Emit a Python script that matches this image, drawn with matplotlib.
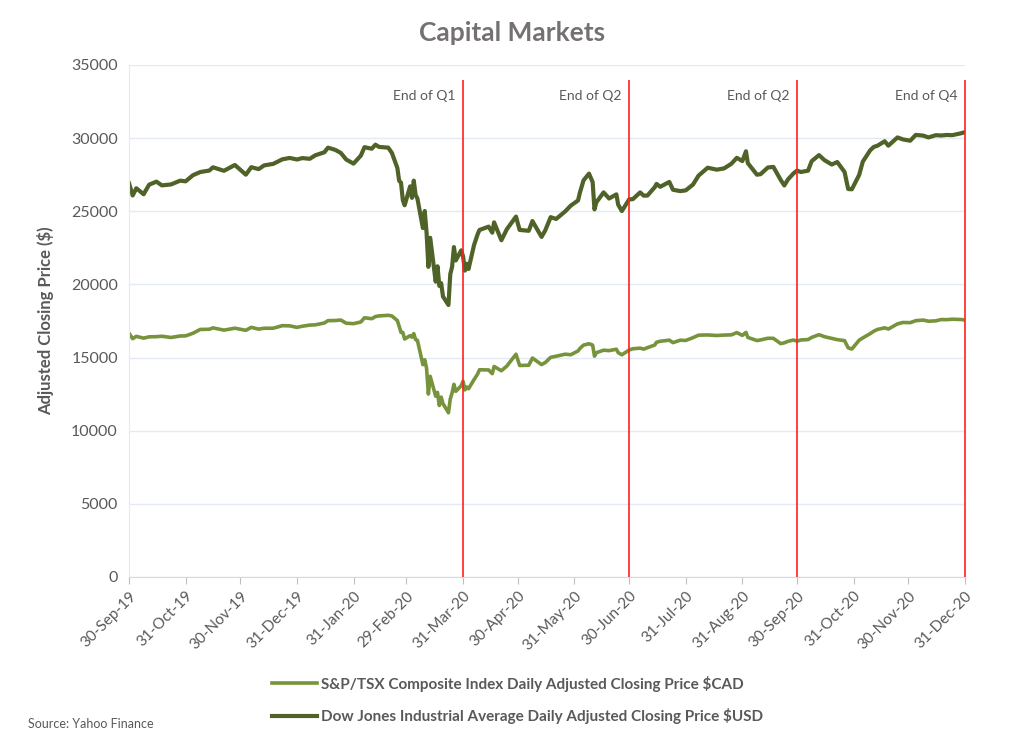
import numpy as np
import pandas as pd
import matplotlib
matplotlib.use('Agg')
import matplotlib.pyplot as plt
import matplotlib.dates as mdates

plt.rcParams['font.family'] = ['Lato', 'DejaVu Sans']

dates = ['2019-09-30', '2019-10-02', '2019-10-04', '2019-10-08', '2019-10-11', '2019-10-15', '2019-10-18',
         '2019-10-23', '2019-10-28', '2019-10-31', '2019-11-04', '2019-11-08', '2019-11-13', '2019-11-15',
         '2019-11-21', '2019-11-27', '2019-12-03', '2019-12-06', '2019-12-10', '2019-12-13', '2019-12-18',
         '2019-12-23', '2019-12-27', '2019-12-31', '2020-01-03', '2020-01-07', '2020-01-10', '2020-01-15',
         '2020-01-17', '2020-01-21', '2020-01-24', '2020-01-27', '2020-01-31', '2020-02-04', '2020-02-06',
         '2020-02-10', '2020-02-12', '2020-02-14', '2020-02-19', '2020-02-21', '2020-02-24', '2020-02-25',
         '2020-02-26', '2020-02-27', '2020-02-28', '2020-03-02', '2020-03-03', '2020-03-04', '2020-03-05',
         '2020-03-06', '2020-03-09', '2020-03-10', '2020-03-11', '2020-03-12', '2020-03-13', '2020-03-16',
         '2020-03-17', '2020-03-18', '2020-03-19', '2020-03-20', '2020-03-23', '2020-03-24', '2020-03-25',
         '2020-03-26', '2020-03-27', '2020-03-30', '2020-03-31', '2020-04-01', '2020-04-02', '2020-04-03',
         '2020-04-06', '2020-04-08', '2020-04-09', '2020-04-14', '2020-04-16', '2020-04-17', '2020-04-21',
         '2020-04-24', '2020-04-29', '2020-05-01', '2020-05-06', '2020-05-08', '2020-05-13', '2020-05-15',
         '2020-05-18', '2020-05-21', '2020-05-26', '2020-05-29', '2020-06-02', '2020-06-03', '2020-06-05',
         '2020-06-08', '2020-06-10', '2020-06-11', '2020-06-12', '2020-06-16', '2020-06-19', '2020-06-23',
         '2020-06-24', '2020-06-26', '2020-06-30', '2020-07-02', '2020-07-06', '2020-07-08', '2020-07-10',
         '2020-07-14', '2020-07-15', '2020-07-17', '2020-07-22', '2020-07-24', '2020-07-28', '2020-07-31',
         '2020-08-04', '2020-08-07', '2020-08-12', '2020-08-17', '2020-08-21', '2020-08-25', '2020-08-28',
         '2020-08-31', '2020-09-02', '2020-09-03', '2020-09-08', '2020-09-10', '2020-09-14', '2020-09-17',
         '2020-09-21', '2020-09-23', '2020-09-25', '2020-09-28', '2020-09-30', '2020-10-02', '2020-10-06',
         '2020-10-08', '2020-10-12', '2020-10-15', '2020-10-19', '2020-10-22', '2020-10-26', '2020-10-28',
         '2020-10-30', '2020-11-03', '2020-11-05', '2020-11-09', '2020-11-11', '2020-11-13', '2020-11-17',
         '2020-11-19', '2020-11-24', '2020-11-27', '2020-12-01', '2020-12-04', '2020-12-08', '2020-12-11',
         '2020-12-15', '2020-12-18', '2020-12-21', '2020-12-24', '2020-12-29', '2020-12-31']

dow = [26917, 26078, 26573, 26164, 26817, 27024, 26770,
       26833, 27091, 27046, 27462, 27681, 27784, 28005,
       27766, 28164, 27503, 28015, 27881, 28135, 28239,
       28551, 28645, 28538, 28635, 28584, 28824, 29030,
       29348, 29196, 28990, 28535, 28256, 28808, 29380,
       29276, 29551, 29398, 29348, 28992, 27961, 27081,
       26957, 25766, 25409, 26703, 25917, 27091, 26121,
       25865, 23851, 25018, 23553, 21200, 23185, 20189,
       21237, 19899, 20087, 19174, 18592, 20704, 21201,
       22552, 21637, 22328, 21917, 20944, 21413, 21053,
       22680, 23434, 23719, 23949, 23538, 24242, 23019,
       23775, 24634, 23724, 23664, 24331, 23248, 23685,
       24597, 24474, 24995, 25383, 25742, 26270, 27111,
       27572, 26990, 25128, 25606, 26290, 25871, 26156,
       25446, 25016, 25813, 25827, 26287, 26067, 26075,
       26643, 26870, 26672, 27005, 26470, 26379, 26428,
       26828, 27433, 27976, 27844, 27930, 28249, 28654,
       28430, 29100, 28292, 27500, 27535, 27993, 28033,
       27148, 26763, 27174, 27584, 27782, 27683, 27773,
       28426, 28837, 28494, 28196, 28364, 27686, 26520,
       26502, 27481, 28391, 29158, 29398, 29480, 29784,
       29483, 30046, 29910, 29824, 30218, 30174, 30046,
       30200, 30179, 30216, 30200, 30336, 30410]

tsx = [16659, 16290, 16449, 16327, 16415, 16427, 16456,
       16372, 16472, 16483, 16659, 16921, 16934, 17028,
       16876, 17005, 16862, 17066, 16942, 17003, 17005,
       17180, 17168, 17063, 17143, 17218, 17236, 17363,
       17521, 17532, 17564, 17347, 17318, 17432, 17719,
       17656, 17802, 17848, 17888, 17843, 17528, 17137,
       16719, 16717, 16263, 16500, 16392, 16637, 16225,
       16175, 14514, 14849, 14270, 12508, 13716, 12360,
       12615, 11721, 12300, 11852, 11228, 12172, 12589,
       13171, 12688, 13073, 13379, 12789, 12987, 12868,
       13491, 13878, 14166, 14152, 13897, 14389, 14097,
       14420, 15228, 14457, 14476, 14966, 14518, 14655,
       15013, 15091, 15229, 15193, 15450, 15620, 15851,
       15943, 15850, 15095, 15330, 15503, 15473, 15568,
       15333, 15189, 15515, 15600, 15643, 15575, 15674,
       15855, 16045, 16113, 16188, 16020, 16186, 16169,
       16360, 16529, 16545, 16507, 16537, 16551, 16705,
       16514, 16717, 16376, 16162, 16204, 16318, 16315,
       15954, 16005, 16108, 16198, 16121, 16200, 16229,
       16377, 16562, 16425, 16311, 16223, 16156, 15664,
       15581, 16185, 16342, 16632, 16797, 16920, 17031,
       16949, 17300, 17397, 17386, 17520, 17562, 17483,
       17509, 17600, 17590, 17620, 17600, 17560]

quarter_ends = ['2020-03-31', '2020-06-30', '2020-09-30', '2020-12-31']
quarter_labels = ['End of Q1', 'End of Q2', 'End of Q2', 'End of Q4']
tick_dates = ['2019-09-30', '2019-10-31', '2019-11-30', '2019-12-31', '2020-01-31', '2020-02-29',
              '2020-03-31', '2020-04-30', '2020-05-31', '2020-06-30', '2020-07-31', '2020-08-31',
              '2020-09-30', '2020-10-31', '2020-11-30', '2020-12-31']

x = pd.to_datetime(dates)
gray = '#595959'

fig = plt.figure(figsize=(10.24, 7.4), dpi=100)
ax = fig.add_axes([0.126, 0.2203, 0.8164, 0.6919])

l1, = ax.plot(x, tsx, color='#77933C', lw=2.6, solid_joinstyle='round',
              label='S&P/TSX Composite Index Daily Adjusted Closing Price $CAD')
l2, = ax.plot(x, dow, color='#4F6228', lw=3.0, solid_joinstyle='round',
              label='Dow Jones Industrial Average Daily Adjusted Closing Price $USD')

qd = pd.to_datetime(quarter_ends)
ax.vlines(qd, 0, 34000, color='#FF2020', lw=1.2, zorder=3, clip_on=False)
for d, lab in zip(qd, quarter_labels):
    ax.text(d - pd.Timedelta(days=4), 32900, lab, ha='right', va='center', fontsize=10, color=gray)

ax.set_xlim(pd.Timestamp('2019-09-30'), pd.Timestamp('2020-12-31'))
ax.set_ylim(0, 35000)
ax.set_yticks(np.arange(0, 35001, 5000))
ax.set_xticks(pd.to_datetime(tick_dates))
ax.xaxis.set_major_formatter(mdates.DateFormatter('%d-%b-%y'))
plt.setp(ax.get_xticklabels(), rotation=45, ha='right', rotation_mode='anchor')
ax.tick_params(axis='x', colors='#BFBFBF', labelcolor=gray, labelsize=11, length=5, direction='out')
ax.tick_params(axis='y', length=0, labelcolor=gray, labelsize=11.5, pad=8)

ax.grid(axis='y', color='#E4EAF4', lw=1)
ax.set_axisbelow(True)
for s in ['top', 'right']:
    ax.spines[s].set_visible(False)
ax.spines['left'].set_color('#E4EAF4')
ax.spines['bottom'].set_color('#D9D9D9')

ax.set_ylabel('Adjusted Closing Price ($)', fontsize=12, fontweight='bold', color=gray, labelpad=12)
fig.text(0.5, 0.955, 'Capital Markets', ha='center', va='center', fontsize=19, fontweight='bold', color='#767171')

leg = fig.legend(handles=[l1, l2], loc='center', bbox_to_anchor=(0.505, 0.054), ncol=1, frameon=False,
                 handlelength=3.0, handletextpad=0.2, labelspacing=1.1, prop={'size': 11, 'weight': 'bold'})
for t in leg.get_texts():
    t.set_color(gray)

fig.text(0.027, 0.016, 'Source: Yahoo Finance', fontsize=9, color=gray)

fig.savefig('out.png', dpi=100)
